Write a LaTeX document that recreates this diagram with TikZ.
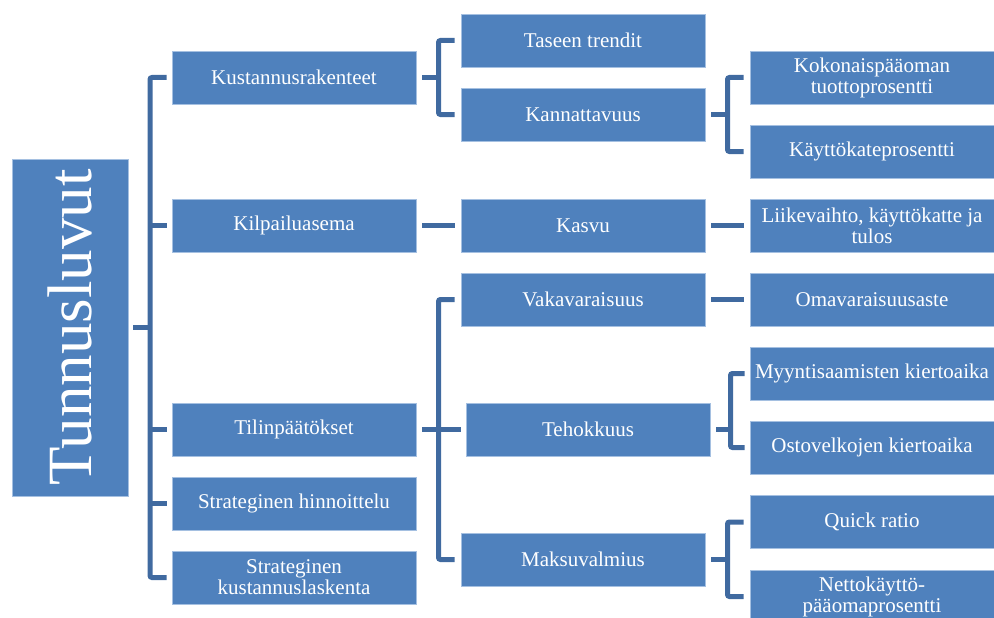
\documentclass[tikz,border=0pt]{standalone}
\usepackage{fontspec}
\setmainfont{Liberation Serif}
\definecolor{boxblue}{RGB}{79,129,189}
\definecolor{lineblue}{RGB}{64,106,160}
\definecolor{edgeblue}{RGB}{165,192,225}
\begin{document}
\begin{tikzpicture}[x=1pt,y=-1pt,
  box/.style={fill=boxblue, draw=edgeblue, line width=0.6pt, text=white, inner sep=0pt,
    minimum width=244pt, minimum height=53pt, align=center,
    font=\fontsize{21}{21}\selectfont},
  conn/.style={draw=lineblue, line width=5pt, rounded corners=2pt}]
\useasboundingbox (0,0) rectangle (994,618);
\clip (0,0) rectangle (994,618);
% root
\node[box, minimum width=116pt, minimum height=337pt, font=\fontsize{63}{63}\selectfont] (root) at (70,327.5) {\rotatebox{90}{Tunnusluvut}};
% level 1
\node[box] (k1) at (294,77.5) {Kustannusrakenteet};
\node[box] (k2) at (294,225.5) {Kilpailuasema};
\node[box] (k3) at (294,429.5) {Tilinpäätökset};
\node[box] (k4) at (294,503.5) {Strateginen hinnoittelu};
\node[box] (k5) at (294,577.5) {Strateginen\\kustannuslaskenta};
% level 2
\node[box] (t1) at (583,40.5) {Taseen trendit};
\node[box] (t2) at (583,114.5) {Kannattavuus};
\node[box] (t3) at (583,225.5) {Kasvu};
\node[box] (t4) at (583,299.5) {Vakavaraisuus};
\node[box] (t5) at (588,429.5) {Tehokkuus};
\node[box] (t6) at (583,559.5) {Maksuvalmius};
% level 3
\node[box] (r1) at (872,77.5) {Kokonaispääoman\\tuottoprosentti};
\node[box] (r2) at (872,151.5) {Käyttökateprosentti};
\node[box] (r3) at (872,225.5) {Liikevaihto, käyttökatte ja\\tulos};
\node[box] (r4) at (872,299.5) {Omavaraisuusaste};
\node[box] (r5) at (872,373.5) {Myyntisaamisten kiertoaika};
\node[box] (r6) at (872,447.5) {Ostovelkojen kiertoaika};
\node[box] (r7) at (872,522) {Quick ratio};
\node[box] (r8) at (872,596.5) {Nettokäyttö-\\pääomaprosentti};
% bracket x positions
\coordinate (b1) at (150,0);
\coordinate (b2) at (438.5,0);
\coordinate (b3) at (727.5,0);
\coordinate (b4) at (730.5,0);
% root bracket
\draw[conn] ([xshift=5pt]root.east) -- (root.east -| b1);
\draw[conn] ([xshift=-5pt]k1.west) -- (k1.west -| b1) -- (k5.west -| b1) -- ([xshift=-5pt]k5.west);
\foreach \n in {k2,k3,k4} \draw[conn] (\n.west -| b1) -- ([xshift=-5pt]\n.west);
% Kustannusrakenteet
\draw[conn] ([xshift=6pt]k1.east) -- (k1.east -| b2);
\draw[conn] ([xshift=-6pt]t1.west) -- (t1.west -| b2) -- (t2.west -| b2) -- ([xshift=-6pt]t2.west);
% Kilpailuasema
\draw[conn] ([xshift=6pt]k2.east) -- ([xshift=-6pt]t3.west);
% Tilinpaatokset
\draw[conn] ([xshift=6pt]k3.east) -- ([xshift=-5pt]t5.west);
\draw[conn] ([xshift=-6pt]t4.west) -- (t4.west -| b2) -- (t6.west -| b2) -- ([xshift=-6pt]t6.west);
% Kannattavuus
\draw[conn] ([xshift=6pt]t2.east) -- (t2.east -| b3);
\draw[conn] ([xshift=-6pt]r1.west) -- (r1.west -| b3) -- (r2.west -| b3) -- ([xshift=-6pt]r2.west);
% Kasvu, Vakavaraisuus
\draw[conn] ([xshift=6pt]t3.east) -- ([xshift=-6pt]r3.west);
\draw[conn] ([xshift=6pt]t4.east) -- ([xshift=-6pt]r4.west);
% Tehokkuus
\draw[conn] ([xshift=6pt]t5.east) -- (t5.east -| b4);
\draw[conn] ([xshift=-5pt]r5.west) -- (r5.west -| b4) -- (r6.west -| b4) -- ([xshift=-5pt]r6.west);
% Maksuvalmius
\draw[conn] ([xshift=6pt]t6.east) -- (t6.east -| b3);
\draw[conn] ([xshift=-6pt]r7.west) -- (r7.west -| b3) -- (r8.west -| b3) -- ([xshift=-6pt]r8.west);
\end{tikzpicture}
\end{document}
